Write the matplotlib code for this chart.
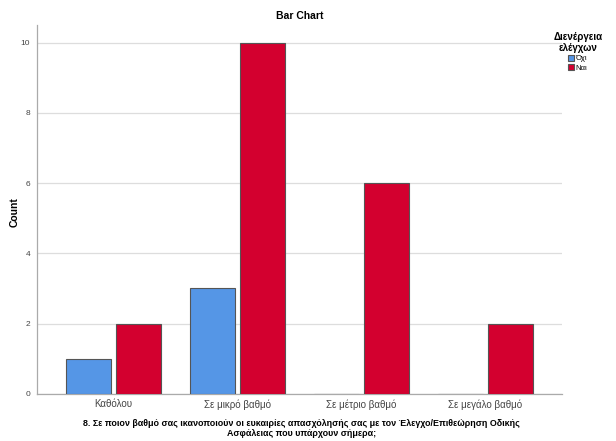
import numpy as np
import matplotlib
matplotlib.use("Agg")
import matplotlib.pyplot as plt

# data
categories = ["Καθόλου", "Σε μικρό βαθμό", "Σε μέτριο βαθμό", "Σε μεγάλο βαθμό"]
series_names = ["Όχι", "Ναι"]
counts_oxi = [1, 3, 0, 0]
counts_nai = [2, 10, 6, 2]
yticks = [0, 2, 4, 6, 8, 10]

blue = "#5596E6"
red = "#D3002F"

plt.rcParams["font.family"] = ["Liberation Sans", "DejaVu Sans"]

fig = plt.figure(figsize=(6.16, 4.41), dpi=100)
ax = fig.add_axes([0.060, 0.107, 0.852, 0.836])

x = np.arange(len(categories))
w = 0.363
off = 0.2016
ax.bar(x - off, counts_oxi, w, color=blue, edgecolor="#555555", linewidth=0.8,
       label=series_names[0], zorder=3)
ax.bar(x + off, counts_nai, w, color=red, edgecolor="#555555", linewidth=0.8,
       label=series_names[1], zorder=3)

ax.set_xlim(-0.617, 3.617)
ax.set_ylim(0, 10.5)
ax.set_yticks(yticks)
ax.set_xticks(x)
ax.set_xticklabels(categories, fontsize=7, color="#444444")
ax.tick_params(axis="y", labelsize=6, colors="#444444", length=0, pad=5)
ax.tick_params(axis="x", length=0, pad=4)
ax.yaxis.grid(True, color="#dddddd", linewidth=0.9, zorder=0)
ax.set_axisbelow(True)
for s in ["top", "right"]:
    ax.spines[s].set_visible(False)
for s in ["left", "bottom"]:
    ax.spines[s].set_color("#aaaaaa")
    ax.spines[s].set_linewidth(0.9)

fig.text(0.024, 0.52, "Count", rotation=90, ha="center", va="center",
         fontsize=7.5, fontweight="bold")
fig.text(0.49, 0.028,
         "8. Σε ποιον βαθμό σας ικανοποιούν οι ευκαιρίες απασχόλησής σας με τον Έλεγχο/Επιθεώρηση Οδικής\n"
         "Ασφάλειας που υπάρχουν σήμερα;", ha="center", va="center", fontsize=6.4,
         fontweight="bold", linespacing=1.1)
fig.suptitle("Bar Chart", x=0.487, y=0.975, fontsize=7.5, fontweight="bold")

leg = fig.legend(loc="upper left", bbox_to_anchor=(0.893, 0.935), frameon=False,
                 title="Διενέργεια\nελέγχων", fontsize=5.5, handlelength=0.8,
                 handleheight=0.8, handletextpad=0.2, labelspacing=0.2,
                 borderaxespad=0)
leg.get_title().set_fontweight("bold")
leg.get_title().set_fontsize(7)
leg.get_title().set_multialignment("center")

fig.savefig("out.png", dpi=100)
